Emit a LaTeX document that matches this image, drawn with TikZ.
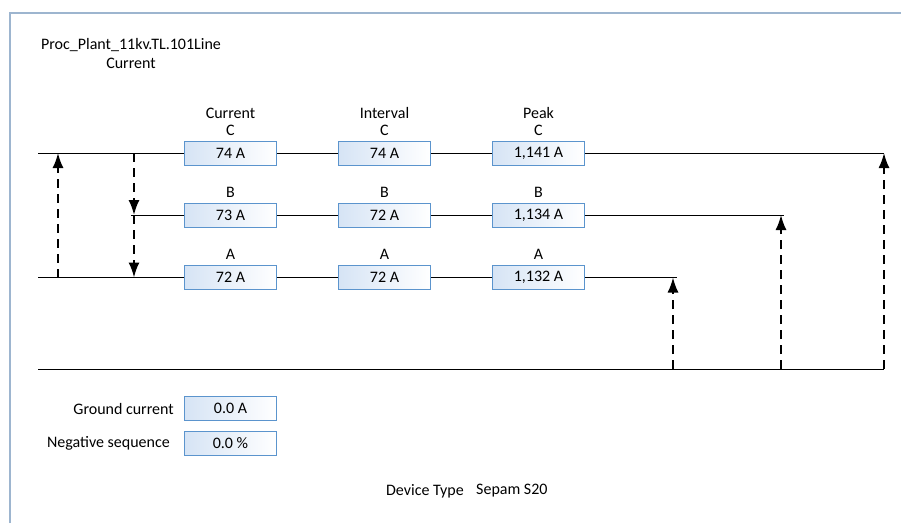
\documentclass[tikz,border=0pt]{standalone}
\usepackage{fontspec}
\setmainfont{Carlito}
\usetikzlibrary{positioning,arrows.meta}
\definecolor{framecol}{RGB}{157,181,207}
\definecolor{boxedge}{RGB}{91,148,205}
\definecolor{boxfill}{RGB}{214,228,245}
\begin{document}
\begin{tikzpicture}[x=1pt,y=-1pt,
    font=\fontsize{16}{19}\selectfont,
    valbox/.style={rectangle, draw=boxedge, line width=1pt, left color=boxfill, right color=white, minimum width=92pt, minimum height=24pt, inner sep=0pt, text centered},
    lbl/.style={inner sep=0pt},
    bus/.style={line width=1pt},
    feed/.style={line width=1.8pt, dash pattern=on 9pt off 6pt, -{Latex[length=15pt,width=11pt]}}]
    \useasboundingbox (0,0) rectangle (901,523);
    \draw [framecol, line width=1.5pt] (10,523) -- (10,13) -- (901,13);

    \node (title) [lbl, align=center] at (131,53) {Proc\_Plant\_11kv.TL.101Line\\Current};

    % value boxes
    \node (curC) [valbox] at (230.5,153) {74 A};
    \node (intC) [valbox] at (384.5,153) {74 A};
    \node (pkC) [valbox] at (538.5,153) {1,141 A};
    \node (curB) [valbox] at (230.5,215) {73 A};
    \node (intB) [valbox] at (384.5,215) {72 A};
    \node (pkB) [valbox] at (538.5,215) {1,134 A};
    \node (curA) [valbox] at (230.5,277.5) {72 A};
    \node (intA) [valbox] at (384.5,277.5) {72 A};
    \node (pkA) [valbox] at (538.5,277.5) {1,132 A};

    \node (hcur) [lbl] at (230.5,113) {Current};
    \node (hint) [lbl] at (384.5,113) {Interval};
    \node (hpk) [lbl] at (538.5,113) {Peak};
    \foreach \col in {cur,int,pk} {
        \node [lbl, above=5pt of \col C] {C};
        \node [lbl, above=5pt of \col B] {B};
        \node [lbl, above=5pt of \col A] {A};
    }

    % line ends
    \coordinate (cL) at (38,153);
    \coordinate (cR) at (884,153);
    \coordinate (bL) at (131,215);
    \coordinate (bR) at (784,215);
    \coordinate (aL) at (38,277.5);
    \coordinate (aR) at (677,277.5);
    \coordinate (gL) at (38,369);
    \coordinate (gR) at (884,369);

    \draw [bus] (cL) -- (curC) (curC) -- (intC) (intC) -- (pkC) (pkC) -- (cR);
    \draw [bus] (bL) -- (curB) (curB) -- (intB) (intB) -- (pkB) (pkB) -- (bR);
    \draw [bus] (aL) -- (curA) (curA) -- (intA) (intA) -- (pkA) (pkA) -- (aR);
    \draw [bus] (gL) -- (gR);

    % feeds
    \coordinate (f1a) at (58,277.5);
    \coordinate (f1c) at (58,153);
    \coordinate (f2c) at (134,153);
    \coordinate (f2b) at (134,215);
    \coordinate (f2a) at (134,277.5);
    \coordinate (f3g) at (673,369);
    \coordinate (f3a) at (673,277.5);
    \coordinate (f4g) at (781,369);
    \coordinate (f4b) at (781,215);
    \coordinate (f5g) at (884,369);
    \coordinate (f5c) at (884,153);

    \draw [feed] (f1a) -- (f1c);
    \draw [feed] (f2c) -- (f2b);
    \draw [feed] (f2b) -- (f2a);
    \draw [feed] (f3g) -- (f3a);
    \draw [feed] (f4g) -- (f4b);
    \draw [feed] (f5g) -- (f5c);

    % ground and negative sequence
    \node (gnd) [valbox] at (230.5,408.5) {0.0 A};
    \node (neg) [valbox] at (230.5,443.5) {0.0 \%};
    \node (gndlbl) [lbl, left=10pt of gnd] {Ground current};
    \node (neglbl) [lbl, left=14pt of neg] {Negative sequence};

    \node (devlbl) [lbl, anchor=east] at (464,491) {Device Type};
    \node (devval) [lbl, right=12pt of devlbl] {Sepam S20};
\end{tikzpicture}
\end{document}
